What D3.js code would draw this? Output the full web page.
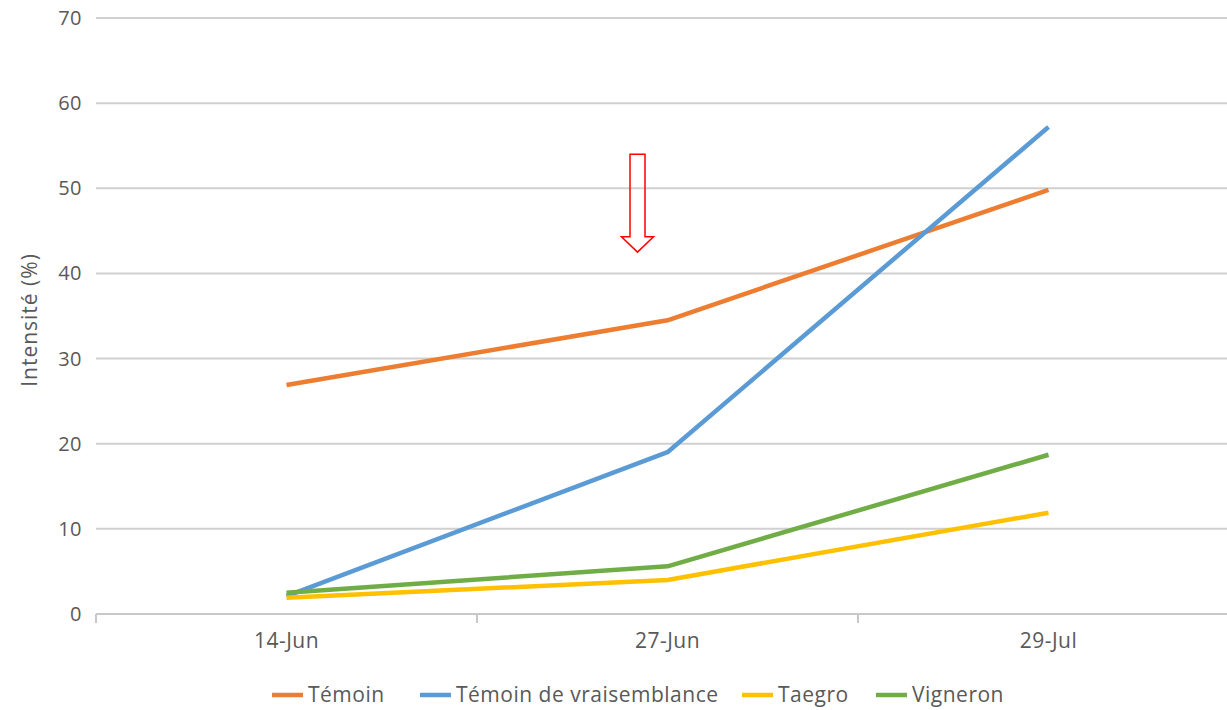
<!DOCTYPE html>
<html>
<head>
<meta charset="utf-8">
<script src="https://cdn.jsdelivr.net/npm/d3@7"></script>
<style>
  body { margin:0; background:#fff }
  svg text { font-family:"Open Sans", "Noto Sans", sans-serif; fill:#595959 }
</style>
</head>
<body>
<div id="chart"></div>
<script>
var dates     = ['14-Jun', '27-Jun', '29-Jul']
var yTicks    = [0, 10, 20, 30, 40, 50, 60, 70]
var temoin    = [26.9, 34.5, 49.8]
var vraisembl = [2.1, 19.0, 57.2]
var taegro    = [1.9, 4.0, 11.9]
var vigneron  = [2.5, 5.6, 18.7]
var names     = ['Témoin', 'Témoin de vraisemblance', 'Taegro', 'Vigneron']
var colors    = ['#ed7d31', '#5b9bd5', '#ffc000', '#70ad47']

var series = [temoin, vraisembl, taegro, vigneron].map((v, i)=> ({ name:names[i], color:colors[i], values:v }))

var w = 1227
var h = 710
var m = { top:18, right:-12, bottom:96, left:96 }

var svg = d3.select('#chart').append('svg')
    .attr('width', w)
    .attr('height', h)

var x = d3.scaleBand()
    .domain(dates)
    .range([m.left, w - m.right])

var y = d3.scaleLinear()
    .domain([0, 70])
    .range([h - m.bottom, m.top])

// gridlines
svg.append('g')
    .selectAll('line')
    .data(yTicks.filter(d=> d > 0))
    .join('line')
        .attr('x1', m.left)
        .attr('x2', w)
        .attr('y1', d=> y(d))
        .attr('y2', d=> y(d))
        .attr('stroke', '#d0d0d0')
        .attr('stroke-width', 2)

// y tick labels
svg.append('g')
    .selectAll('text')
    .data(yTicks)
    .join('text')
        .attr('x', 82)
        .attr('y', d=> y(d))
        .attr('dy', '0.35em')
        .attr('text-anchor', 'end')
        .style('font-size', '20px')
        .style('letter-spacing', '0.5px')
        .text(d=> d)

// x axis
var xAxis = svg.append('g')
    .attr('transform', 'translate(0,' + y(0) + ')')
xAxis.append('line')
    .attr('x1', m.left)
    .attr('x2', w)
    .attr('stroke', '#c8c8c8')
    .attr('stroke-width', 2)
xAxis.selectAll('.tk')
    .data(dates)
    .join('line')
        .attr('class', 'tk')
        .attr('x1', d=> x(d))
        .attr('x2', d=> x(d))
        .attr('y1', 0)
        .attr('y2', 9)
        .attr('stroke', '#c8c8c8')
        .attr('stroke-width', 2)
xAxis.selectAll('text')
    .data(dates)
    .join('text')
        .attr('x', d=> x(d) + x.bandwidth()/2)
        .attr('y', 34)
        .attr('text-anchor', 'middle')
        .style('font-size', '21px')
        .style('letter-spacing', '0.5px')
        .text(d=> d)

// y title
svg.append('text')
    .attr('transform', 'translate(37,' + ((y(0) + y(70))/2 + 4) + ') rotate(-90)')
    .attr('text-anchor', 'middle')
    .style('font-size', '21px')
    .style('letter-spacing', '1px')
    .text('Intensité (%)')

// lines
var line = d3.line()
    .x((d, i)=> x(dates[i]) + x.bandwidth()/2)
    .y(d=> y(d))

svg.append('g')
    .selectAll('path')
    .data(series)
    .join('path')
        .attr('d', d=> line(d.values))
        .attr('fill', 'none')
        .attr('stroke', d=> d.color)
        .attr('stroke-width', 4.5)
        .attr('stroke-linejoin', 'round')

// red arrow annotation above 27-Jun
var ax = x('27-Jun') + x.bandwidth()/2 - 30
var aTop = y(54), aNeck = y(44.3), aTip = y(42.5)
svg.append('path')
    .attr('d', d3.line()([
        [ax - 7.5, aTop], [ax + 7.5, aTop], [ax + 7.5, aNeck], [ax + 16, aNeck],
        [ax, aTip], [ax - 16, aNeck], [ax - 7.5, aNeck]
    ]) + 'Z')
    .attr('fill', 'none')
    .attr('stroke', '#ff0000')
    .attr('stroke-width', 1.5)

// legend
var legX = [272, 420, 742, 876]
var leg = svg.append('g')
    .selectAll('g')
    .data(series)
    .join('g')
        .attr('transform', (d, i)=> 'translate(' + legX[i] + ',695)')
leg.append('line')
    .attr('x1', 0)
    .attr('x2', 31)
    .attr('stroke', d=> d.color)
    .attr('stroke-width', 4.5)
leg.append('text')
    .attr('x', 36)
    .attr('dy', '0.35em')
    .style('font-size', '21px')
    .style('letter-spacing', '0.5px')
    .text(d=> d.name)
</script>
</body>
</html>
